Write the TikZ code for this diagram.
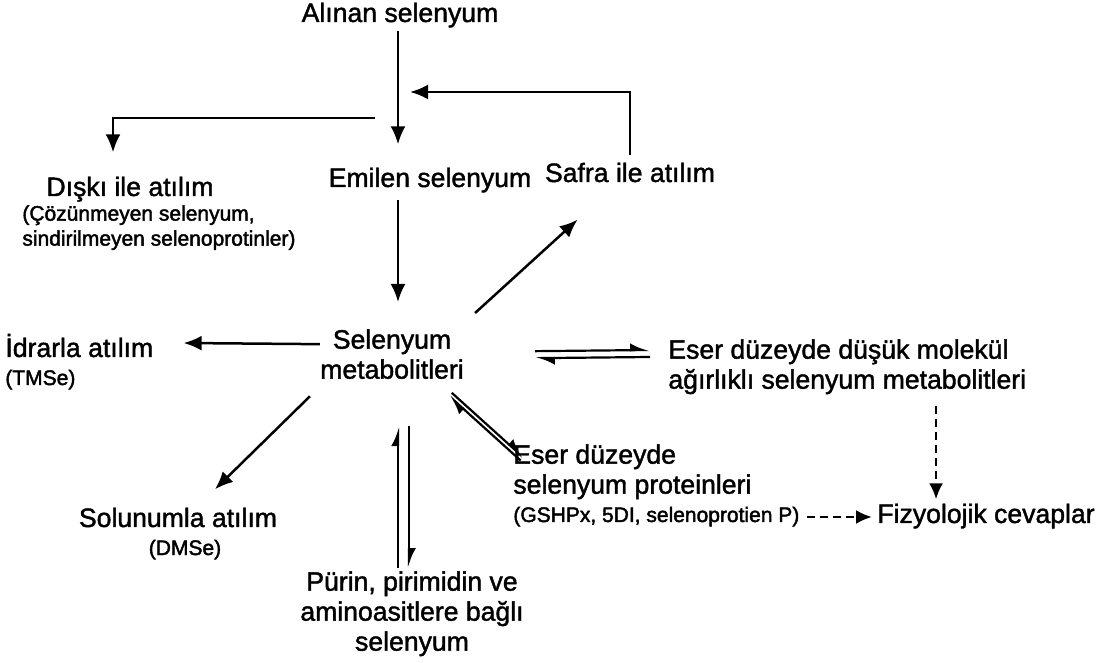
\documentclass[tikz,border=0pt]{standalone}
\usepackage{fontspec}
\setmainfont{Liberation Sans}
\newfontfamily\heavyfont[FakeBold=1.5]{Liberation Sans}
\newfontfamily\notefont[FakeBold=2]{Liberation Sans}
\usetikzlibrary{arrows.meta}
\usetikzlibrary{calc}

\newcommand{\bigtxt}{\heavyfont\fontsize{13.3}{15}\selectfont}
\newcommand{\smalltxt}{\notefont\fontsize{10.5}{12.5}\selectfont}

\begin{document}
\begin{tikzpicture}[
      x=0.5pt, y=-0.5pt
      , lbl/.style={inner sep=0pt, font=\bigtxt}
      , note/.style={inner sep=0pt, font=\smalltxt}
      , arr/.style={-{Latex[length=9pt,width=7.5pt]}, line width=1.25pt}
      , harp/.style={-{Latex[harpoon,length=8pt,width=7pt]}, line width=1.1pt}
      , dsh/.style={-{Latex[length=8pt,width=7pt]}, line width=1.25pt, dash pattern=on 4pt off 2.5pt}
      ]

      \useasboundingbox (0,0) rectangle (1110,663);

      % upper part
      \node[lbl, anchor=base] (alinan) at (400,22) {Alınan selenyum};
      \node[lbl, anchor=base] (emilen) at (430,187) {Emilen selenyum};
      \node[lbl, anchor=base] (safra) at (630,182) {Safra ile atılım};
      \node[lbl, anchor=base] (diski) at (130,196) {Dışkı ile atılım};
      \node[note, anchor=north west, align=left] (diskinot) at (22,205) {(Çözünmeyen selenyum,\\sindirilmeyen selenoprotinler)};

      % middle
      \node[lbl, anchor=north, align=center] (metab) at (392,329) {Selenyum\\metabolitleri};
      \node[lbl, anchor=base west] (idrar) at (5,357) {İdrarla atılım};
      \node[note, anchor=base west] (idrarnot) at (5,385) {(TMSe)};
      \node[lbl, anchor=north west, align=left] (dusuk) at (668,339) {Eser düzeyde düşük molekül\\ağırlıklı selenyum metabolitleri};

      % lower part
      \node[lbl, anchor=north west, align=left] (eserprot) at (513,444) {Eser düzeyde\\selenyum proteinleri};
      \node[note, anchor=base west] (protnot) at (513,522) {(GSHPx, 5DI, selenoprotien P)};
      \node[lbl, anchor=base west] (fizyo) at (877,523) {Fizyolojik cevaplar};
      \node[lbl, anchor=base] (solunum) at (178,527) {Solunumla atılım};
      \node[note, anchor=base] (solunumnot) at (185,555) {(DMSe)};
      \node[lbl, anchor=north, align=center] (purin) at (412,571) {Pürin, pirimidin ve\\aminoasitlere bağlı\\selenyum};

      \coordinate (split) at (375,118);
      \coordinate (fb) at (410,92);

      \draw[arr] ([shift={(-2,3)}]alinan.south) -- ([shift={(-32,-23)}]emilen.north);
      \draw[arr] (split) -| ([shift={(-17,-24)}]diski.north);
      \draw[arr] ([shift={(0,-7)}]safra.north) |- (fb);
      \draw[arr] ([shift={(-32,7)}]emilen.south) -- ([shift={(6,-27)}]metab.north);
      \draw[arr] ([shift={(11,-16)}]metab.north east) -- ([shift={(33,37)}]safra.south west);
      \draw[arr] ([shift={(0,-10)}]metab.west) -- ([shift={(30,-14)}]idrar.base east);
      \draw[arr] ([shift={(-10,17)}]metab.south west) -- ([shift={(37,-18)}]solunum.north);

      % equilibria
      \draw[harp] ([shift={(71,-3)}]metab.east) -- ([shift={(-18,11)}]dusuk.north west);
      \draw[harp] ([shift={(-18,18)}]dusuk.north west) -- ([shift={(71,4)}]metab.east);
      \draw[harp] ($(eserprot.north west)+(9-1.4,15+1.5)$) -- ($(metab.south east)+(-13.7-1.4,15+1.5)$);
      \draw[harp] ($(metab.south east)+(-13.7+1.4,15-1.5)$) -- ($(eserprot.north west)+(9+1.4,15-1.5)$);
      \draw[harp] ([shift={(-14,-3)}]purin.north) -- ([shift={(6,47)}]metab.south);
      \draw[harp] ([shift={(17,47)}]metab.south) -- ([shift={(-3,-3)}]purin.north);

      % dashed
      \draw[dsh] ($(dusuk.south -| fizyo.north)+(-50,11)$) -- ($(fizyo.north)+(-50,-4)$);
      \draw[dsh] ([shift={(7,-5)}]protnot.base east) -- ([shift={(-5,-6)}]fizyo.base west);
    \end{tikzpicture}
\end{document}
